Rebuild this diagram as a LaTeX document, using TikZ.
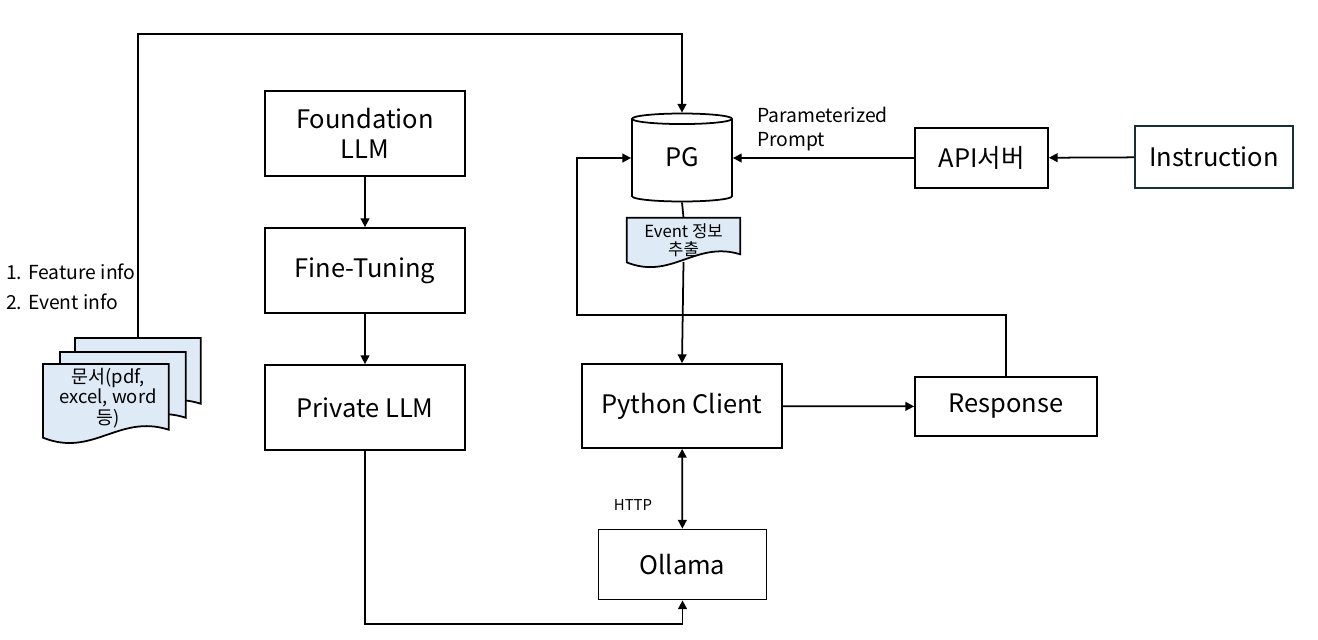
\documentclass[tikz,border=0pt]{standalone}
\usepackage{fontspec}
\setmainfont{Noto Sans CJK KR}
\usetikzlibrary{positioning,calc,arrows.meta,shapes.geometric}
\definecolor{docblue}{RGB}{222,235,247}
\definecolor{darkteal}{RGB}{22,48,54}

\begin{document}
\begin{tikzpicture}[
        x=0.02cm, y=-0.02cm,
        box/.style={rectangle, draw=black, line width=1pt, align=center, font=\fontsize{14.5}{17}\selectfont},
        doc/.style={rectangle, inner sep=0pt, align=center},
        docfill/.style={draw=black, line width=1pt, fill=docblue},
        label/.style={align=left, font=\fontsize{11}{14}\selectfont},
        arrow/.style={-{Triangle[length=5pt,width=5pt]}, line width=1pt},
        line/.style={line width=1pt}
    ]
    \useasboundingbox (0,0) rectangle (1318,639);

    % LLM column
    \node[box, minimum width=4cm, minimum height=1.7cm] at (365,133.5) (found) {Foundation\\LLM};
    \node[box, minimum width=4cm, minimum height=1.7cm] at (365,270.5) (fine) {Fine-Tuning};
    \node[box, minimum width=4cm, minimum height=1.7cm] at (365,407.5) (private) {Private LLM};

    % PG database
    \node[cylinder, shape border rotate=90, aspect=0.9, draw=black, line width=1pt, anchor=shape center,
          minimum width=2cm, minimum height=1.76cm] at (682,157.5) (pg) {};
    \node[font=\fontsize{14.5}{17}\selectfont] at (pg.shape center) (pgtext) {PG};

    % Event document
    \node[doc, minimum width=2.26cm, minimum height=0.88cm] at (683.5,240) (evt) {};
    \draw[docfill] (evt.south west) -- (evt.north west) -- (evt.north east) -- ($(evt.south east)+(0,-8)$)
        .. controls ($(evt.south east)+(-45,-22)$) and ($(evt.south west)+(45,18)$) .. (evt.south west) -- cycle;
    \node[font=\fontsize{9.5}{10.5}\selectfont, align=center] at (683.5,240) {Event 정보\\추출};

    % Clients and servers
    \node[box, minimum width=4cm, minimum height=1.68cm] at (682,406) (python) {Python Client};
    \node[box, minimum width=3.64cm, minimum height=1.18cm] at (1006,406.5) (response) {Response};
    \node[box, minimum width=3.36cm, minimum height=1.4cm] at (682.5,564.5) (ollama) {Ollama};
    \node[box, minimum width=2.66cm, minimum height=1.2cm] at (981.5,158) (api) {API서버};
    \node[box, draw=darkteal, minimum width=3.16cm, minimum height=1.24cm] at (1214,157) (instr) {Instruction};

    % Document stack
    \foreach \name/\dx/\dy in {doc3/75/338, doc2/60/352, doc1/43/364} {
        \node[doc, anchor=north west, minimum width=2.5cm, minimum height=1.46cm] at (\dx,\dy) (\name) {};
        \draw[docfill] (\name.south west) -- (\name.north west) -- (\name.north east) -- ($(\name.south east)+(0,-8)$)
            .. controls ($(\name.south east)+(-50,-24)$) and ($(\name.south west)+(50,20)$) .. (\name.south west) -- cycle;
    }
    \node[font=\fontsize{10.5}{11.5}\selectfont, align=center] at (108,398) {문서(pdf,\\excel, word\\등)};

    % Labels
    \node[label, anchor=west] at (0,272) (feat) {1. Feature info};
    \node[label, anchor=west] at (0,302) (event) {2. Event info};
    \node[label, anchor=west] at (751,129) (param) {Parameterized\\Prompt};
    \node[font=\fontsize{8.5}{10}\selectfont] at (633,505) (http) {HTTP};

    % Helper coordinates
    \coordinate (topy) at (0,34);
    \coordinate (boty) at (0,624);
    \coordinate (loop) at (577,315);

    % Arrows
    \draw[arrow] (found) -- (fine);
    \draw[arrow] (fine) -- (private);
    \draw[arrow] (doc3.north) -- (doc3.north |- topy) -| (pg.north);
    \draw[arrow] (private.south) -- (private.south |- boty) -| (ollama.south);
    \draw[line] (pg.bottom) -- (evt.north);
    \draw[arrow] (evt.south |- 0,262) -- (python.north);
    \draw[{Triangle[length=5pt,width=5pt]}-{Triangle[length=5pt,width=5pt]}, line width=1pt] (python) -- (ollama);
    \draw[arrow] (python) -- (response);
    \draw[arrow] (response.north) |- (loop) |- (pg.west |- api);
    \draw[arrow] (api) -- (pg.east |- api);
    \draw[arrow] (instr) -- (api);

\end{tikzpicture}
\end{document}
